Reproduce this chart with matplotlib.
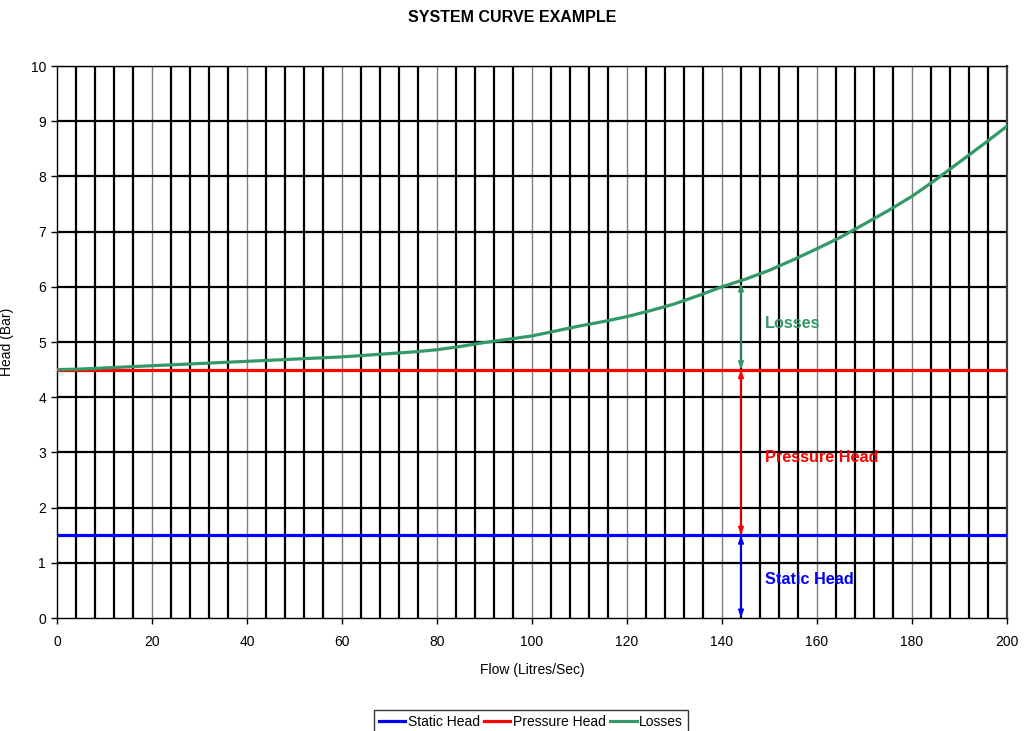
import matplotlib
matplotlib.use("Agg")
import matplotlib.pyplot as plt
import numpy as np

plt.rcParams['font.family'] = ['Liberation Sans', 'DejaVu Sans']

# Flow (L/s) and head readings (bar)
flow = [0, 5, 10, 15, 20, 25, 30, 35, 40, 45, 50, 55, 60, 65, 70, 75, 80,
        85, 90, 95, 100, 105, 110, 115, 120, 125, 130, 135, 140, 145, 150,
        155, 160, 165, 170, 175, 180, 185, 190, 195, 200]
losses = [4.50, 4.51, 4.53, 4.55, 4.57, 4.59, 4.61, 4.63, 4.65, 4.67, 4.69,
          4.71, 4.73, 4.76, 4.79, 4.82, 4.86, 4.92, 4.99, 5.05, 5.11, 5.20,
          5.29, 5.37, 5.46, 5.57, 5.69, 5.84, 6.00, 6.14, 6.30, 6.49, 6.69,
          6.90, 7.14, 7.38, 7.64, 7.94, 8.26, 8.58, 8.91]
static_head = 1.5
pressure_head = 4.5

# Operating point used for the stacked-head arrows
duty_flow = 144
duty_head = 6.07

series_names = ["Static Head", "Pressure Head", "Losses"]
series_colors = ["#0000FF", "#FF0000", "#339966"]

fig = plt.figure(figsize=(10.25, 7.31), dpi=100)
ax = fig.add_axes([57 / 1025, 1 - 618 / 731, 950 / 1025, 552 / 731])

ax.set_xlim(0, 200)
ax.set_ylim(0, 10)

# Grid: heavy black every 4 L/s and every bar, light grey at labelled flows
for xv in np.arange(4, 200, 4):
    if xv % 20 == 0:
        ax.axvline(xv, color="#808080", lw=1.0, zorder=1)
    else:
        ax.axvline(xv, color="black", lw=1.6, zorder=1)
for yv in range(1, 11):
    ax.axhline(yv, color="black", lw=1.6, zorder=1)

x_line = [flow[0], flow[-1]]
ax.plot(x_line, [static_head, static_head], color=series_colors[0], lw=2.3,
        label=series_names[0], zorder=3)
ax.plot(x_line, [pressure_head, pressure_head], color=series_colors[1], lw=2.3,
        label=series_names[1], zorder=3)
ax.plot(flow, losses, color=series_colors[2], lw=2.3,
        label=series_names[2], zorder=3, solid_joinstyle="round")

# Double-headed arrows showing each component of total head
astyle = "<|-|>,head_length=0.45,head_width=0.16"
for (y0, y1), c in zip([(0, static_head), (static_head, pressure_head),
                        (pressure_head, duty_head)], series_colors):
    ax.annotate("", xy=(duty_flow, y1), xytext=(duty_flow, y0),
                arrowprops=dict(arrowstyle=astyle, color=c, lw=1.2,
                                shrinkA=0, shrinkB=0), zorder=4)

ax.text(149, 5.33, "Losses", color=series_colors[2], fontsize=11.7,
        fontweight="bold", va="center", ha="left", zorder=5)
ax.text(149, 2.9, "Pressure Head", color=series_colors[1], fontsize=11.7,
        fontweight="bold", va="center", ha="left", zorder=5)
ax.text(149, 0.7, "Static Head", color=series_colors[0], fontsize=11.7,
        fontweight="bold", va="center", ha="left", zorder=5)

ax.set_xticks(np.arange(0, 201, 20))
ax.set_yticks(np.arange(0, 11, 1))
ax.tick_params(axis="both", direction="out", length=4, width=1,
               labelsize=10, colors="black")
ax.tick_params(axis="x", pad=8)
ax.tick_params(axis="y", pad=4)

for side in ["left", "bottom", "top"]:
    ax.spines[side].set_color("black")
    ax.spines[side].set_linewidth(1.0)
ax.spines["right"].set_color("#404040")
ax.spines["right"].set_linewidth(1.6)

ax.set_xlabel("Flow (Litres/Sec)", fontsize=10, labelpad=10)
ax.set_ylabel("Head (Bar)", fontsize=10, labelpad=12)
fig.text(0.5, 1 - 17 / 731, "SYSTEM CURVE EXAMPLE", ha="center", va="center",
         fontsize=11.5, fontweight="bold")

leg = fig.legend(loc="lower center", bbox_to_anchor=(0.518, -0.004), ncol=3,
                 fontsize=10, frameon=True, fancybox=False, edgecolor="black",
                 handlelength=1.9, handletextpad=0.2, columnspacing=0.3,
                 borderpad=0.35, borderaxespad=0.0)
leg.get_frame().set_linewidth(1.0)

fig.savefig("out.png", dpi=100)
